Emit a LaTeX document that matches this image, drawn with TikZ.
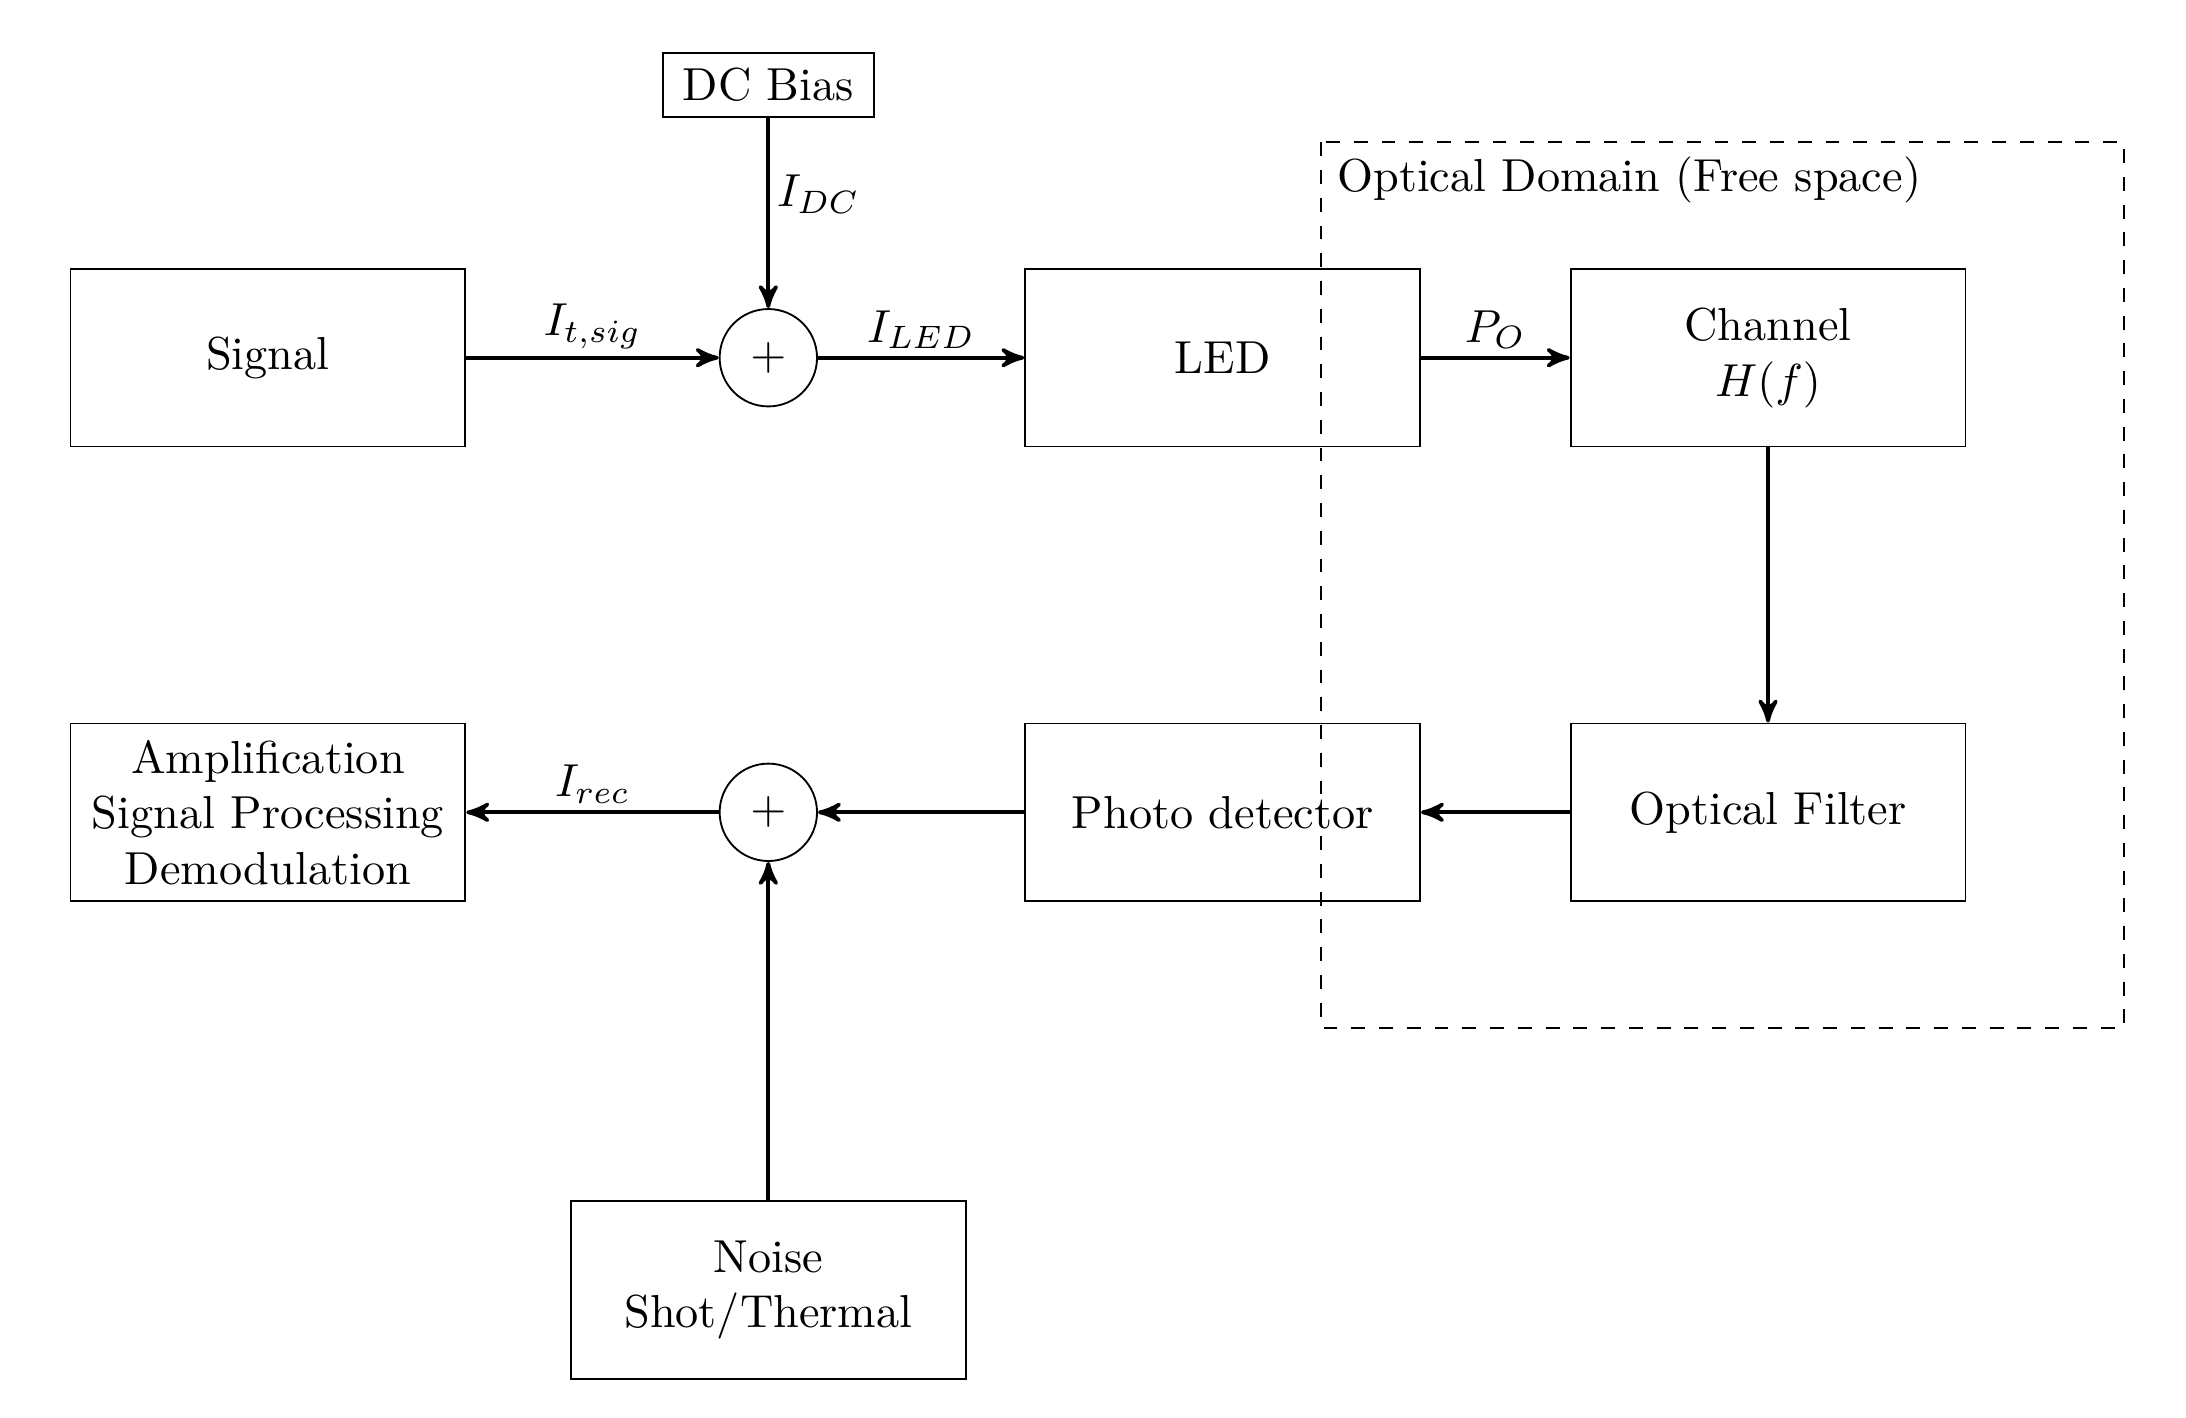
\documentclass[tikz,border=0pt]{standalone}
\usepackage{amsmath}
\usepackage{amssymb}
\usepackage{tikz}
\usetikzlibrary{arrows}

\begin{document}
\begin{tikzpicture}[block/.style={rectangle, draw, minimum width=3cm, minimum height=1.35cm, align=center}, sumnode/.style={circle, draw, minimum size=0.74cm}]
  \useasboundingbox (-2.036, 2.718) rectangle (14.574, -8.049);
  \node[block] (signal) at (0.0, 0.0) {Signal};
  \node[sumnode] (sum1) at (3.802, 0.0) {$+$};
  \node[rectangle, draw, inner xsep=4.3pt] (dc) at (3.802, 2.072) {DC Bias};
  \node[block] (led) at (7.254, 0.0) {LED};
  \node[block] (chan) at (11.398, 0.0) {Channel\\$H(f)$};
  \node[block] (filt) at (11.398, -3.454) {Optical Filter};
  \node[block] (pd) at (7.254, -3.454) {Photo detector};
  \node[sumnode] (sum2) at (3.802, -3.454) {$+$};
  \node[block] (amp) at (0.0, -3.454) {Amplification\\Signal Processing\\Demodulation};
  \node[block] (noise) at (3.802, -7.082) {Noise\\Shot/Thermal};
  
  % optical domain
  \draw[dashed] (8.001, 1.637) rectangle (14.103, -5.091);
  \node[anchor=base west] (dom) at (8.001, 1.261) {Optical Domain (Free space)};
  
  % signal path
  \tikzset{flow/.style={->, >=stealth', thick}};
  \tikzset{lbl/.style={inner sep=1.5pt}};
  \path (signal) edge [flow] node [above, lbl] {$I_{t,sig}$} (sum1);
  \path (dc) edge [flow] node [right, lbl, pos=0.4] {$I_{DC}$} (sum1);
  \path (sum1) edge [flow] node [above, lbl] {$I_{LED}$} (led);
  \path (led) edge [flow] node [above, lbl] {$P_O$} (chan);
  \path (chan) edge [flow] node {} (filt);
  \path (filt) edge [flow] node {} (pd);
  \path (pd) edge [flow] node {} (sum2);
  \path (noise) edge [flow] node {} (sum2);
  \path (sum2) edge [flow] node [above, lbl] {$I_{rec}$} (amp);
\end{tikzpicture}
\end{document}
